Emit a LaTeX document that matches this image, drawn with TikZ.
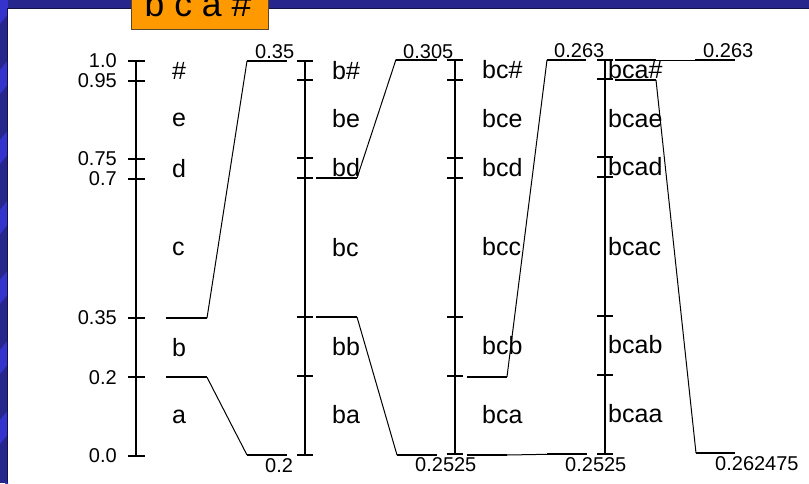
\documentclass[tikz,border=0pt]{standalone}
\usepackage{fontspec}
\setmainfont{Liberation Sans}
\definecolor{navy}{RGB}{38,38,140}
\definecolor{stripeblue}{RGB}{52,52,205}
\definecolor{edgeblue}{RGB}{18,18,70}
\definecolor{boxorange}{RGB}{255,153,0}
\definecolor{boxedge}{RGB}{90,70,40}
\begin{document}
\begin{tikzpicture}[x=1pt,y=-1pt,
  axisline/.style={line width=2.2pt},
  tickmark/.style={line width=2pt},
  hconn/.style={line width=2pt},
  dconn/.style={line width=1pt},
  ticklab/.style={font=\fontsize{20}{24}\selectfont, inner sep=0pt},
  seglab/.style={font=\fontsize{25}{30}\selectfont, inner sep=0pt, anchor=west},
  vallab/.style={font=\fontsize{20}{24}\selectfont, inner sep=0pt, anchor=west},
]
\useasboundingbox (0,0) rectangle (809,483);
\clip (0,0) rectangle (809,483);
% background frame
\fill[navy] (0,0) rectangle (809,483);
\foreach \s in {0,70,...,490} {
  \fill[stripeblue] (0,\s) -- (8,\s-10) -- (8,\s+14) -- (0,\s+24) -- cycle;
}
\fill[white] (8,9) rectangle (809,483);
\draw[edgeblue, line width=1.2pt] (7.4,483) -- (7.4,8.4) -- (809,8.4);
% title box
\draw[boxedge, fill=boxorange, line width=1pt] (131,-5) rectangle (268,29);
\node[font=\fontsize{35.5}{40}\selectfont, anchor=base, inner sep=0pt] (title) at (198,16.7) {b c a \#};

% column 1
\draw[axisline] (136,61) -- (136,456);
\foreach \y in {61,80.7,159,179,318,377.3,456} \draw[tickmark] (128,\y) -- (145,\y);
\node[ticklab, anchor=east] (t1) at (117,61) {1.0};
\node[ticklab, anchor=east] (t2) at (117,80.7) {0.95};
\node[ticklab, anchor=east] (t3) at (117,159) {0.75};
\node[ticklab, anchor=east] (t4) at (117,179) {0.7};
\node[ticklab, anchor=east] (t5) at (117,318) {0.35};
\node[ticklab, anchor=east] (t6) at (117,377.3) {0.2};
\node[ticklab, anchor=east] (t7) at (117,456) {0.0};
\node[seglab] (s1a) at (172,70.5) {\#};
\node[seglab] (s1b) at (172,120) {e};
\node[seglab] (s1c) at (172,169) {d};
\node[seglab] (s1d) at (172,248.5) {c};
\node[seglab] (s1e) at (172,347.5) {b};
\node[seglab] (s1f) at (172,416.5) {a};

% column 2
\draw[axisline] (305,61) -- (305,454.5);
\foreach \y in {61,80,158,178,317,376,454.5} \draw[tickmark] (297,\y) -- (313,\y);
\node[seglab] (s2a) at (332,70.5) {b\#};
\node[seglab] (s2b) at (332,119) {be};
\node[seglab] (s2c) at (332,168) {bd};
\node[seglab] (s2d) at (332,247.5) {bc};
\node[seglab] (s2e) at (332,346.5) {bb};
\node[seglab] (s2f) at (332,415) {ba};

% column 3
\draw[axisline] (455,60) -- (455,454);
\foreach \y in {60,80,157.7,177.7,316.7,375.7,454} \draw[tickmark] (447,\y) -- (463,\y);
\node[seglab] (s3a) at (482,70) {bc\#};
\node[seglab] (s3b) at (482,119) {bce};
\node[seglab] (s3c) at (482,167.5) {bcd};
\node[seglab] (s3d) at (482,247) {bcc};
\node[seglab] (s3e) at (482,346) {bcb};
\node[seglab] (s3f) at (482,415) {bca};

% column 4
\draw[axisline] (605,60) -- (605,454);
\foreach \y in {60,79,157,177,316,374.5,454} \draw[tickmark] (597,\y) -- (613,\y);
\node[seglab] (s4a) at (608,70) {bca\#};
\node[seglab] (s4b) at (608,118.5) {bcae};
\node[seglab] (s4c) at (608,166.5) {bcad};
\node[seglab] (s4d) at (608,246.5) {bcac};
\node[seglab] (s4e) at (608,345) {bcab};
\node[seglab] (s4f) at (608,414) {bcaa};

% connectors 1 -> 2
\coordinate (a1) at (166,377.3); \coordinate (a2) at (207,377.3);
\coordinate (a3) at (247,455); \coordinate (a4) at (287,455);
\coordinate (b1) at (166,318); \coordinate (b2) at (207,318);
\coordinate (b3) at (247,61); \coordinate (b4) at (287,61);
\draw[hconn] (a1) -- (a2); \draw[dconn] (a2) -- (a3); \draw[hconn] (a3) -- (a4);
\draw[hconn] (b1) -- (b2); \draw[dconn] (b2) -- (b3); \draw[hconn] (b3) -- (b4);
\node[vallab] (v1) at (255,51.5) {0.35};
\node[vallab] (v2) at (265,465.5) {0.2};

% connectors 2 -> 3
\coordinate (c1) at (316,178); \coordinate (c2) at (357,178);
\coordinate (c3) at (396,59.5); \coordinate (c4) at (437,59.5);
\coordinate (d1) at (316,317); \coordinate (d2) at (357,317);
\coordinate (d3) at (397,455); \coordinate (d4) at (437,455);
\draw[hconn] (c1) -- (c2); \draw[dconn] (c2) -- (c3); \draw[hconn] (c3) -- (c4);
\draw[hconn] (d1) -- (d2); \draw[dconn] (d2) -- (d3); \draw[hconn] (d3) -- (d4);
\node[vallab] (v3) at (403,52) {0.305};
\node[vallab] (v4) at (415,465) {0.2525};

% connectors 3 -> 4
\coordinate (e1) at (467,376.7); \coordinate (e2) at (507,376.7);
\coordinate (e3) at (547,60); \coordinate (e4) at (586,60);
\coordinate (f1) at (467,455); \coordinate (f2) at (507,455);
\coordinate (f3) at (547,454.3); \coordinate (f4) at (587,454.3);
\draw[hconn] (e1) -- (e2); \draw[dconn] (e2) -- (e3); \draw[hconn] (e3) -- (e4);
\draw[hconn] (f1) -- (f2); \draw[dconn] (f2) -- (f3); \draw[hconn] (f3) -- (f4);
\node[vallab] (v5) at (554,50.5) {0.263};
\node[vallab] (v6) at (565,465) {0.2525};

% connectors 4 -> out
\coordinate (g1) at (615,60); \coordinate (g2) at (656,60);
\coordinate (g3) at (695,60); \coordinate (g4) at (735,60);
\coordinate (h1) at (615,80); \coordinate (h2) at (656,80);
\coordinate (h3) at (696,453); \coordinate (h4) at (735,453);
\draw[hconn] (g1) -- (g2); \draw[dconn] (g2) -- (g3); \draw[hconn] (g3) -- (g4);
\draw[hconn] (h1) -- (h2); \draw[dconn] (h2) -- (h3); \draw[hconn] (h3) -- (h4);
\node[vallab] (v7) at (703,50.5) {0.263};
\node[vallab] (v8) at (715,463.5) {0.262475};
\end{tikzpicture}
\end{document}
